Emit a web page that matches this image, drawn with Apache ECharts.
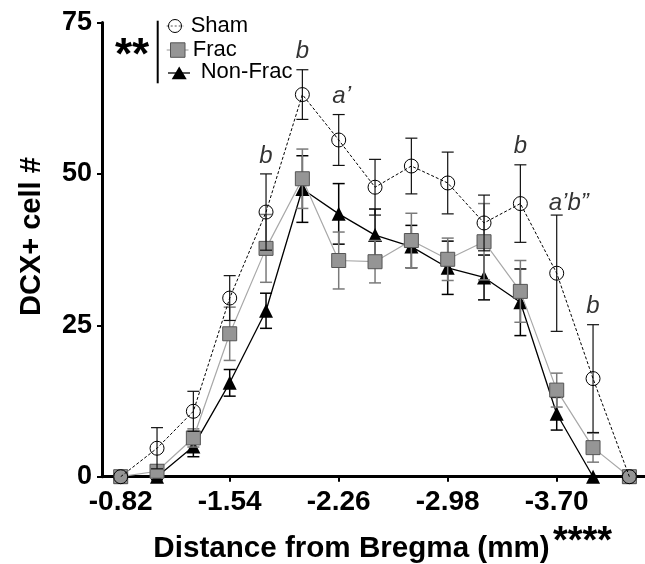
<!DOCTYPE html>
<html><head><meta charset="utf-8">
<script src="https://cdn.jsdelivr.net/npm/echarts@6/dist/echarts.min.js"></script>
<style>html,body{margin:0;padding:0;background:#fff}#c{width:645px;height:564px}</style>
</head><body><div id="c"></div>
<script>
// ---- data ----
const distances = [-0.82,-1.06,-1.30,-1.54,-1.78,-2.02,-2.26,-2.50,-2.74,-2.98,-3.22,-3.46,-3.70,-3.94,-4.18];
const xTickValues = [-0.82,-1.54,-2.26,-2.98,-3.70];
const yTickLabels = [0,25,50,75];
const sham      = [0, 4.7, 10.8, 29.5, 43.7, 63.1, 55.6, 47.8, 51.3, 48.5, 41.9, 45.1, 33.6, 16.2, 0];
const shamErr   = [0, 3.4,  3.3,  3.7,  6.3,  4.1,  4.2,  4.6,  4.6,  5.1,  4.6,  6.4,  9.6,  8.9, 0];
const frac      = [0, 0.9,  6.4, 23.6, 37.7, 49.2, 35.7, 35.5, 39.0, 35.9, 38.8, 30.6, 14.3,  4.8, 0];
const fracErr   = [0, 1.0,  1.5,  4.4,  5.6,  4.9,  4.7,  3.5,  4.5,  3.5,  6.3,  5.1,  2.8,  2.4, 0];
const nonFrac   = [0, 0,    5.0, 15.5, 27.4, 47.5, 43.4, 39.9, 38.0, 34.5, 32.9, 28.8, 10.4,  0,   0];
const nonFracErr= [0, 0.5,  1.7,  2.2,  2.9,  5.5,  5.0,  4.3,  3.5,  4.4,  3.7,  5.5,  2.7,  0,   0];
const annotIndex = [4, 5, 6, 11, 12, 13];
const annotText  = ['b', 'b', 'a\u2019', 'b', 'a\u2019b\u201d', 'b'];
const seriesNames = ['Sham', 'Frac', 'Non-Frac'];

const FONT = "'Liberation Sans', Arial, Helvetica, sans-serif";

function pts(vals){ return distances.map((d,i)=>[d, vals[i]]); }
function errPts(vals, errs){ return distances.map((d,i)=>[d, vals[i]-errs[i], vals[i]+errs[i]]).filter((p,i)=>errs[i]>0); }
function errRender(color, width){
  return function(params, api){
    const x = api.value(0), lo = api.value(1), hi = api.value(2);
    const p1 = api.coord([x, hi]), p2 = api.coord([x, lo]);
    const h = 6;
    const st = {stroke: color, lineWidth: width};
    return {type:'group', children:[
      {type:'line', shape:{x1:p1[0], y1:p1[1], x2:p2[0], y2:p2[1]}, style:st},
      {type:'line', shape:{x1:p1[0]-h, y1:p1[1], x2:p1[0]+h, y2:p1[1]}, style:st},
      {type:'line', shape:{x1:p2[0]-h, y1:p2[1], x2:p2[0]+h, y2:p2[1]}, style:st}
    ]};
  };
}

const chart = echarts.init(document.getElementById('c'), null, {renderer:'canvas'});
const annotData = annotIndex.map((i,k)=>({name: annotText[k], value:[distances[i], sham[i]+shamErr[i]],
  label: k===4 ? {offset:[12,6]} : (k===2 ? {offset:[3,0]} : {})}));

chart.setOption({
  animation: false,
  backgroundColor: '#fff',
  grid: {left: 102, right: 0, top: 22.5, bottom: 87.3, containLabel: false, outerBoundsMode: 'none'},
  xAxis: {
    type: 'value', inverse: true, min: -4.2832, max: -0.6965,
    name: 'Distance from Bregma (mm)', nameLocation: 'middle', nameGap: 57,
    nameTextStyle: {fontFamily: FONT, fontWeight: 'bold', fontSize: 29.6, color: '#000', padding: [0, 44, 0, 0]},
    axisLine: {lineStyle: {color: '#000', width: 3}},
    axisTick: {show: true, length: 5, lineStyle: {color: '#000', width: 2}, customValues: xTickValues},
    axisLabel: {customValues: xTickValues, margin: 12, fontFamily: FONT, fontWeight: 'bold', fontSize: 28, color: '#000',
      formatter: v => v.toFixed(2)},
    splitLine: {show: false}
  },
  yAxis: {
    type: 'value', min: 0, max: 75, interval: 25,
    name: 'DCX+ cell #', nameLocation: 'middle', nameGap: 56, nameRotate: 90,
    nameTextStyle: {fontFamily: FONT, fontWeight: 'bold', fontSize: 29, color: '#000', padding: [0, 0, 0, 26]},
    axisLine: {show: true, lineStyle: {color: '#000', width: 3}},
    axisTick: {show: true, length: 5, lineStyle: {color: '#000', width: 2}},
    axisLabel: {margin: 10, fontFamily: FONT, fontWeight: 'bold', fontSize: 27, color: '#000',
      formatter: v => (yTickLabels.indexOf(v) >= 0 ? String(v) : '')},
    splitLine: {show: false}
  },
  series: [
    {type:'custom', name:'nonFracErr', renderItem: errRender('#000', 1.5), data: errPts(nonFrac, nonFracErr), z: 1, silent: true},
    {type:'line', name: seriesNames[2], data: pts(nonFrac), symbol: 'triangle', symbolSize: 14,
      lineStyle: {color: '#000', width: 1.3}, itemStyle: {color: '#000'}, z: 2},
    {type:'custom', name:'fracErr', renderItem: errRender('#7a7a7a', 1.5), data: errPts(frac, fracErr), z: 3, silent: true},
    {type:'line', name: seriesNames[1], data: pts(frac), symbol: 'rect', symbolSize: 14,
      lineStyle: {color: '#a8a8a8', width: 1.2}, itemStyle: {color: '#959595', borderColor: '#555', borderWidth: 1}, z: 4},
    {type:'custom', name:'shamErr', renderItem: errRender('#111', 1.2), data: errPts(sham, shamErr), z: 5, silent: true},
    {type:'line', name: seriesNames[0], data: pts(sham), symbol: 'circle', symbolSize: 14,
      lineStyle: {color: '#000', width: 1, type: [3, 2]}, itemStyle: {color: 'rgba(255,255,255,0)', borderColor: '#000', borderWidth: 1}, z: 6},
    {type:'scatter', name:'annot', data: annotData, symbolSize: 0, z: 7, silent: true,
      label: {show: true, position: 'top', distance: 6, formatter: p => p.name,
        fontFamily: FONT, fontStyle: 'italic', fontSize: 24, color: '#000'}}
  ],
  graphic: [
    {type:'text', x: 132, y: 57, style:{text:'**', fontFamily: FONT, fontWeight:'bold', fontSize: 44, fill:'#000', align:'center', verticalAlign:'middle'}},
    {type:'line', shape:{x1:157.7, y1:20.7, x2:157.7, y2:83.3}, style:{stroke:'#000', lineWidth:2}},
    // Sham
    {type:'line', shape:{x1:166.7, y1:26, x2:183.3, y2:26}, style:{stroke:'#555', lineWidth:1, lineDash:[2,2]}},
    {type:'circle', shape:{cx:175, cy:26, r:6.5}, style:{stroke:'#000', lineWidth:1, fill:'none'}},
    {type:'text', x:190.7, y:25.5, style:{text: seriesNames[0], fontFamily: FONT, fontSize: 22, fill:'#000', verticalAlign:'middle'}},
    // Frac
    {type:'line', shape:{x1:166.7, y1:50, x2:188.5, y2:50}, style:{stroke:'#a8a8a8', lineWidth:1.2}},
    {type:'rect', shape:{x:170.5, y:42.8, width:14.5, height:14.5}, style:{fill:'#959595', stroke:'#555', lineWidth:1}},
    {type:'text', x:192.7, y:50, style:{text: seriesNames[1], fontFamily: FONT, fontSize: 22, fill:'#000', verticalAlign:'middle'}},
    // Non-Frac
    {type:'line', shape:{x1:168, y1:73, x2:190, y2:73}, style:{stroke:'#000', lineWidth:1.3}},
    {type:'polygon', shape:{points:[[179.2,66.5],[171.7,79.3],[186.7,79.3]]}, style:{fill:'#000'}},
    {type:'text', x:200.7, y:72.2, style:{text: seriesNames[2], fontFamily: FONT, fontSize: 22, fill:'#000', verticalAlign:'middle'}},
    // x-axis title stars
    {type:'text', x:553, y:543, style:{text:'****', fontFamily: FONT, fontWeight:'bold', fontSize: 38, fill:'#000', verticalAlign:'middle'}}
  ]
});
</script>
</body></html>
